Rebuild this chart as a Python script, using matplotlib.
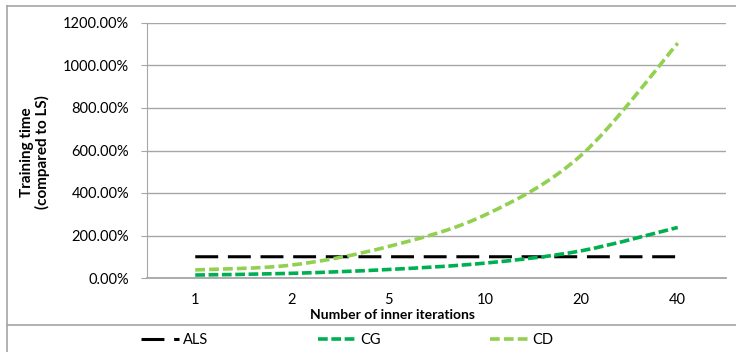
import matplotlib
matplotlib.use("Agg")
from matplotlib import pyplot as plt
from matplotlib.path import Path
import matplotlib.patches as patches
import matplotlib.lines as mlines
from matplotlib.ticker import FuncFormatter

plt.rcParams['font.family'] = ['Lato', 'DejaVu Sans']
plt.rcParams['lines.scale_dashes'] = False

iterations = ["1", "2", "5", "10", "20", "40"]
als = [100, 100, 100, 100, 100, 100]
cg = [14, 22, 40, 70, 128, 238]
cd = [38, 61, 148, 296, 578, 1105]
y_ticks = [0, 200, 400, 600, 800, 1000, 1200]


def smooth_path(xs, ys):
    # Excel style smoothed line: cubic bezier through the points
    pts = list(zip(xs, ys))
    n = len(pts)
    verts = [pts[0]]
    codes = [Path.MOVETO]
    for i in range(n - 1):
        p0 = pts[i - 1] if i > 0 else pts[i]
        p1 = pts[i]
        p2 = pts[i + 1]
        p3 = pts[i + 2] if i + 2 < n else pts[i + 1]
        c1 = (p1[0] + (p2[0] - p0[0]) / 6, p1[1] + (p2[1] - p0[1]) / 6)
        c2 = (p2[0] - (p3[0] - p1[0]) / 6, p2[1] - (p3[1] - p1[1]) / 6)
        verts += [c1, c2, p2]
        codes += [Path.CURVE4] * 3
    return Path(verts, codes)


f = plt.figure(figsize=(7.36, 3.52), dpi=100)
W, H = 736, 352
ax = f.add_axes([147 / W, 1 - 278 / H, (726 - 147) / W, (278 - 23) / H])

xs = [i + 0.5 for i in range(len(iterations))]
styles = [
    (als, "ALS", "black", 2.2, (0, (16.5, 7))),
    (cg, "CG", "#00B050", 2.6, (0, (7, 2.6))),
    (cd, "CD", "#92D050", 2.6, (0, (7, 3))),
]
handles = []
for vals, name, col, lw, ls in styles:
    pp = patches.PathPatch(smooth_path(xs, vals), fill=False, edgecolor=col,
                           linewidth=lw, linestyle=ls, capstyle='butt', zorder=3)
    ax.add_patch(pp)
    handles.append(mlines.Line2D([], [], color=col, linewidth=lw, linestyle=ls, label=name))

ax.set_xlim(0, len(iterations))
ax.set_ylim(0, 1200)
ax.set_xticks(xs)
ax.set_xticklabels(iterations)
ax.set_yticks(y_ticks)
ax.yaxis.set_major_formatter(FuncFormatter(lambda v, p: "%.2f%%" % v))
ax.grid(axis='y', color='#a6a6a6', linewidth=1)
ax.set_axisbelow(True)
for s in ['top', 'right']:
    ax.spines[s].set_visible(False)
ax.spines['left'].set_color('#a6a6a6')
ax.spines['bottom'].set_color('#a6a6a6')
ax.spines['bottom'].set_linewidth(1.3)
ax.tick_params(axis='y', length=4, color='#a6a6a6', labelsize=10.5, pad=9)
ax.tick_params(axis='x', length=0, labelsize=10.5, pad=11)

f.text(35 / W, 1 - 152 / H, "Training time\n(compared to LS)", rotation=90,
       ha='center', va='center', fontsize=11, fontweight='bold', linespacing=1.0)
f.text(392 / W, 1 - 315 / H, "Number of inner iterations", ha='center', va='center',
       fontsize=10, fontweight='bold')

# chart frame and legend separator
f.add_artist(mlines.Line2D([7 / W, 7 / W], [0, 1 - 6 / H], color='#a6a6a6', linewidth=1.2))
f.add_artist(mlines.Line2D([7 / W, 1], [1 - 6 / H, 1 - 6 / H], color='#a6a6a6', linewidth=1.2))
f.add_artist(mlines.Line2D([7 / W, 1], [1 - 325 / H, 1 - 325 / H], color='#a6a6a6', linewidth=1.2))

f.legend(handles=handles, loc='center', bbox_to_anchor=(347 / W, 1 - 340 / H), ncol=3,
         frameon=False, fontsize=10.5, handlelength=2.6, handletextpad=0.3, columnspacing=7.5)

f.savefig("out.png", dpi=100)
